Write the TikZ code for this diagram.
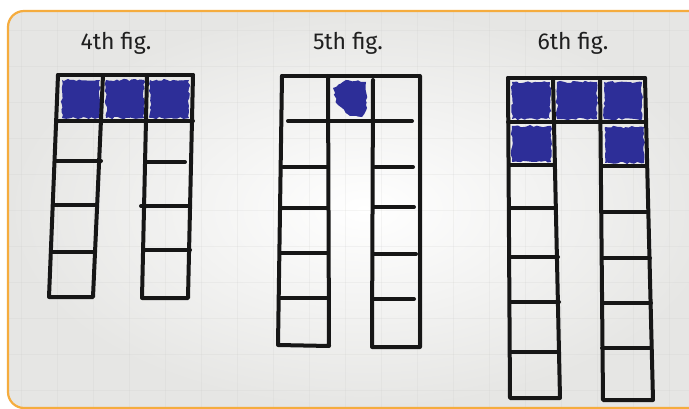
\documentclass[tikz,border=0pt]{standalone}
\usepackage{fontspec}
\setmainfont{Fira Sans}
\usetikzlibrary{decorations.pathmorphing}
\definecolor{frameorange}{RGB}{245,172,62}
\definecolor{paper}{RGB}{230,230,228}
\definecolor{gridline}{RGB}{200,200,198}
\definecolor{marker}{RGB}{22,22,22}
\definecolor{ink}{RGB}{45,46,152}
\begin{document}
\begin{tikzpicture}[x=1pt,y=-1pt,
  pen/.style={draw=marker,line width=4pt,line cap=round,line join=round},
  scrib/.style={fill=ink,decorate,decoration={random steps,segment length=3pt,amplitude=1.2pt}},
  title/.style={font=\fontsize{23}{25}\selectfont,text=black!88,inner sep=0pt,anchor=base}]
\pgfmathsetseed{4242}
\useasboundingbox (0,0) rectangle (689,409);
\fill[white] (0,0) rectangle (689,409);
\begin{scope}
  \clip (0,0) rectangle (689,409);
  \begin{scope}
    \clip[rounded corners=16pt] (8,11) rectangle (720,408);
    \shade[inner color=white,outer color=paper] (8,11) rectangle (720,408);
    \foreach \gx in {21,57,...,689} \draw[gridline,opacity=0.18,line width=0.5pt] (\gx,11) -- (\gx,408);
    \foreach \gy in {30,66,...,408} \draw[gridline,opacity=0.18,line width=0.5pt] (8,\gy) -- (720,\gy);
  \end{scope}
  \draw[frameorange,line width=2.2pt,rounded corners=16pt] (8,11) rectangle (720,408);
\end{scope}

% titles
\node[title] (t4) at (116,50) {4th fig.};
\node[title] (t5) at (348,50) {5th fig.};
\node[title] (t6) at (573,50) {6th fig.};

% ---------- 4th figure ----------
\fill[scrib] (62,80) rectangle (100,118);
\fill[scrib] (106,80) rectangle (144,118);
\fill[scrib] (150,80) rectangle (189,118);
\draw[pen] (58,75) -- (193,75);
\draw[pen] (56,121) -- (193,121);
\draw[pen] (58,75) -- (49,297) -- (93,297) -- (103,75);
\draw[pen] (147,75) -- (142,298) -- (188,298) -- (193,75);
\draw[pen] (56,161) -- (101,161);
\draw[pen] (53,205) -- (96,205);
\draw[pen] (51,252) -- (94,252);
\draw[pen] (147,162) -- (185,162);
\draw[pen] (141,206) -- (190,206);
\draw[pen] (143,250) -- (190,250);

% ---------- 5th figure ----------
\fill[ink,decorate,decoration={random steps,segment length=3pt,amplitude=1.1pt}]
  (333,88) -- (346,80) -- (366,82) -- (367,108) -- (362,117) -- (350,116) -- (337,104) -- cycle;
\draw[pen] (282,76) -- (419,76);
\draw[pen] (288,121) -- (412,121);
\draw[pen] (282,76) -- (278,345) -- (329,346) -- (328,76);
\draw[pen] (373,80) -- (372,347) -- (420,347) -- (420,76);
\draw[pen] (283,167) -- (327,167);
\draw[pen] (281,208) -- (327,208);
\draw[pen] (280,253) -- (327,253);
\draw[pen] (280,298) -- (327,298);
\draw[pen] (375,167) -- (413,167);
\draw[pen] (374,207) -- (414,207);
\draw[pen] (374,254) -- (416,254);
\draw[pen] (374,299) -- (414,299);

% ---------- 6th figure ----------
\fill[scrib] (512,82) rectangle (550,119);
\fill[scrib] (557,82) rectangle (597,119);
\fill[scrib] (604,82) rectangle (642,119);
\fill[scrib] (512,126) rectangle (551,162);
\fill[scrib] (605,127) rectangle (644,163);
\draw[pen] (508,78) -- (645,78);
\draw[pen] (508,122) -- (645,122);
\draw[pen] (508,78) -- (510,398) -- (560,398) -- (553,78);
\draw[pen] (600,78) -- (603,400) -- (653,400) -- (645,78);
\draw[pen] (509,165) -- (553,165);
\draw[pen] (509,208) -- (555,208);
\draw[pen] (509,257) -- (558,257);
\draw[pen] (510,302) -- (559,302);
\draw[pen] (510,352) -- (559,352);
\draw[pen] (601,166) -- (646,166);
\draw[pen] (601,212) -- (648,212);
\draw[pen] (602,258) -- (650,258);
\draw[pen] (602,303) -- (651,303);
\draw[pen] (602,348) -- (651,348);
\end{tikzpicture}
\end{document}
